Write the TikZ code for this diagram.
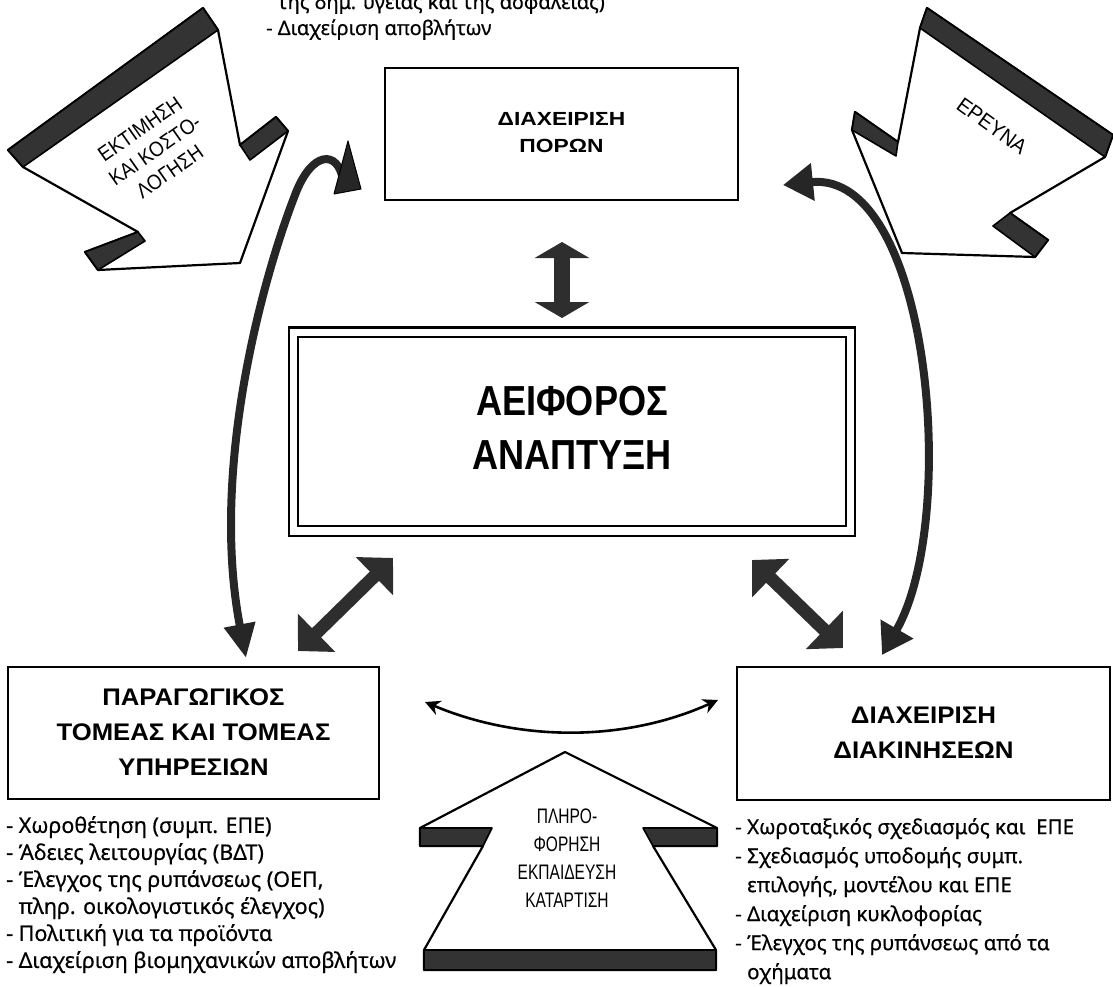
\documentclass[tikz,border=0pt]{standalone}
\usepackage{fontspec}
\usepackage{graphicx}
\setmainfont{Liberation Sans}
\newfontfamily\listfont[FakeBold=0.6]{Noto Sans}
\usetikzlibrary{arrows.meta}
\newcommand\sxlines[2]{\scalebox{#1}[1]{\begin{tabular}{@{}c@{}}#2\end{tabular}}}
\tikzset{
  boxnode/.style={draw, line width=2.4pt, inner sep=0pt, align=center},
  titlefont/.style={font=\bfseries\fontsize{24}{35}\selectfont},
  listtxt/.style={inner sep=0pt, align=left},
  face/.style={fill=white, draw=black, line width=2.2pt, line join=round},
  band/.style={fill=black!80, draw=black, line width=1.6pt, line join=round},
  fatarrow/.style={line width=13pt, draw=black!82, arrows={Triangle[length=26pt,width=52pt]-Triangle[length=26pt,width=52pt]}},
  vertarrow/.style={line width=16pt, draw=black!82, arrows={Triangle[length=16pt,width=54pt]-Triangle[length=16pt,width=54pt]}},
  curvearrow/.style={line width=8pt, draw=black!85, arrows={Triangle[length=30pt,width=36pt]-Triangle[length=30pt,width=36pt]}},
  curveone/.style={line width=8pt, draw=black!85, arrows={-Triangle[length=34pt,width=30pt]}},
  headfill/.style={fill=black!85, draw=black, line width=1pt, line join=round},
  thinarrow/.style={line width=2.6pt, draw=black, arrows={Stealth[length=15pt,width=15pt]-Stealth[length=15pt,width=15pt]}},
}
\begin{document}
\begin{tikzpicture}[x=1pt,y=-1pt]
\useasboundingbox (0,0) rectangle (1113,987);

% ---------- top left fat arrow (ΕΚΤΙΜΗΣΗ) ----------
\draw[face] (8,150) -- (203,8) -- (218,30) -- (240,145) -- (276,117) -- (288,131)
  -- (240,263) -- (98,270) -- (85,252) -- (138,232) -- (23,167) -- cycle;
\draw[band] (8,150) -- (203,8) -- (218,30) -- (23,167) -- cycle;
\draw[band] (240,145) -- (276,117) -- (288,131) -- (250,160) -- cycle;
\draw[band] (85,252) -- (138,232) -- (145,241) -- (98,270) -- cycle;
\node[rotate=35, font=\fontsize{21}{26}\selectfont, inner sep=0pt] (ek) at (156,152)
  {\sxlines{0.9}{ΕΚΤΙΜΗΣΗ\\ΚΑΙ ΚΟΣΤΟ-\\ΛΟΓΗΣΗ}};

% ---------- top right fat arrow (ΕΡΕΥΝΑ) ----------
\draw[face] (927,8) -- (1113,135) -- (1105,157) -- (1010,213) -- (1048,240) -- (1035,257)
  -- (902,253) -- (852,130) -- (855,112) -- (898,142) -- (920,28) -- cycle;
\draw[band] (927,8) -- (1113,135) -- (1105,157) -- (920,28) -- cycle;
\draw[band] (1010,213) -- (1048,240) -- (1035,257) -- (993,226) -- cycle;
\draw[band] (855,112) -- (898,142) -- (896,156) -- (852,130) -- cycle;
\node[rotate=-36, font=\fontsize{21}{26}\selectfont, inner sep=0pt] (er) at (992,126) {\scalebox{0.95}[1]{ΕΡΕΥΝΑ}};

% ---------- bottom up arrow (ΠΛΗΡΟΦΟΡΗΣΗ) ----------
\draw[face] (565,752) -- (717,828) -- (717,846) -- (653,846) -- (716,950) -- (716,970)
  -- (424,970) -- (424,950) -- (483,846) -- (420,846) -- (420,828) -- cycle;
\draw[band] (420,828) -- (492,828) -- (483,846) -- (420,846) -- cycle;
\draw[band] (643,828) -- (717,828) -- (717,846) -- (653,846) -- cycle;
\draw[band] (424,950) -- (716,950) -- (716,970) -- (424,970) -- cycle;
\node[font=\fontsize{21}{28}\selectfont, inner sep=0pt] (pl) at (567,860)
  {\sxlines{0.74}{ΠΛΗΡΟ-\\ΦΟΡΗΣΗ\\ΕΚΠΑΙΔΕΥΣΗ\\ΚΑΤΑΡΤΙΣΗ}};

% ---------- boxes ----------
\node[boxnode, minimum width=353pt, minimum height=132pt, font=\bfseries\fontsize{19}{27}\selectfont]
  (pr) at (561.5,134) {\sxlines{1.2}{ΔΙΑΧΕΙΡΙΣΗ\\ΠΟΡΩΝ}};
\node[boxnode, minimum width=548pt, minimum height=189pt, font=\bfseries\fontsize{42}{54}\selectfont]
  (ae) at (572,431.5) {\sxlines{0.86}{ΑΕΙΦΟΡΟΣ\\ΑΝΑΠΤΥΞΗ}};
\draw[line width=2.4pt] ([shift={(-8,-8.5)}]ae.north west) rectangle ([shift={(8,8.5)}]ae.south east);
\node[boxnode, titlefont, minimum width=371pt, minimum height=132pt]
  (pa) at (193.5,733) {\sxlines{1.07}{ΠΑΡΑΓΩΓΙΚΟΣ\\ΤΟΜΕΑΣ ΚΑΙ ΤΟΜΕΑΣ\\ΥΠΗΡΕΣΙΩΝ}};
\node[boxnode, titlefont, minimum width=373pt, minimum height=133pt]
  (di) at (923.5,733.5) {\sxlines{1.08}{ΔΙΑΧΕΙΡΙΣΗ\\ΔΙΑΚΙΝΗΣΕΩΝ}};

% ---------- connectors ----------
\coordinate (vt) at (562,242);
\coordinate (vb) at (562,318);
\draw[vertarrow] (vt) -- (vb);

\coordinate (dl1) at (298,651);
\coordinate (dl2) at (393,558);
\draw[fatarrow] (dl1) -- (dl2);
\coordinate (dr1) at (752,560);
\coordinate (dr2) at (843,648);
\draw[fatarrow] (dr1) -- (dr2);

% left curved arrow: hooked head at top, normal head at bottom
\coordinate (lc1) at (343,180);
\coordinate (lc2) at (246,658);
\draw[curveone] (lc1) .. controls (338,150) and (312,150) .. (295,195)
  .. controls (262,280) and (210,470) .. (lc2);
\draw[headfill] (348,141) -- (361,189) -- (334,194) -- cycle;

\coordinate (rc1) at (783,185);
\coordinate (rc2) at (882,655);
\draw[curvearrow] (rc1) .. controls (930,170) and (960,520) .. (rc2);

\coordinate (bc1) at (425,702);
\coordinate (bc2) at (718,700);
\draw[thinarrow] (bc1) .. controls (520,742) and (625,742) .. (bc2);

% ---------- lists ----------
\node[listtxt, anchor=south west, font=\listfont\fontsize{20}{26}\selectfont] (tl) at (266,40)
  {\hphantom{- }της δημ. υγείας και της ασφαλείας)\\- Διαχείριση αποβλήτων};
\node[listtxt, anchor=north west, font=\listfont\fontsize{21.5}{27}\selectfont] (ll) at (6,816)
  {- Χωροθέτηση (συμπ. ΕΠΕ)\\
   - Άδειες λειτουργίας (ΒΔΤ)\\
   - Έλεγχος της ρυπάνσεως (ΟΕΠ,\\
   \hphantom{- }πληρ. οικολογιστικός έλεγχος)\\
   - Πολιτική για τα προϊόντα\\
   - Διαχείριση βιομηχανικών αποβλήτων};
\node[listtxt, anchor=north west, font=\listfont\fontsize{20.5}{29}\selectfont] (rl) at (735,818)
  {- Χωροταξικός σχεδιασμός και \ ΕΠΕ\\
   - Σχεδιασμός υποδομής συμπ.\\
   \hphantom{- }επιλογής, μοντέλου και ΕΠΕ\\
   - Διαχείριση κυκλοφορίας\\
   - Έλεγχος της ρυπάνσεως από τα\\
   \hphantom{- }οχήματα};
\end{tikzpicture}
\end{document}
